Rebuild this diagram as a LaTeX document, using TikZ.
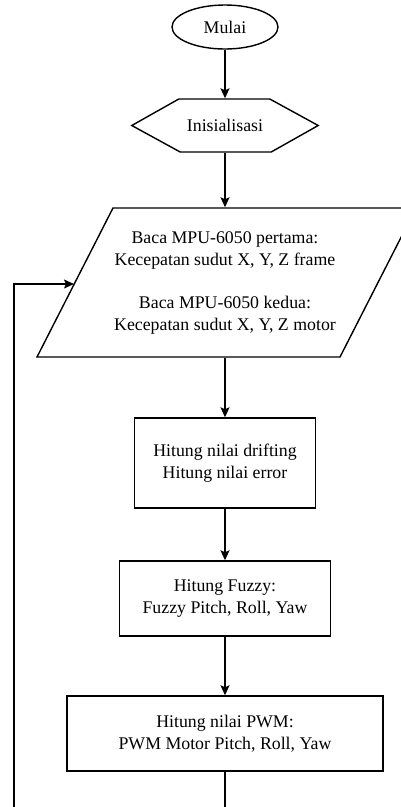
\documentclass[tikz,border=0pt]{standalone}
\usepackage{fontspec}
\setmainfont{Liberation Serif}
\usetikzlibrary{shapes.geometric,arrows.meta}

\begin{document}
\begin{tikzpicture}[x=1pt,y=-1pt,line width=1.4pt,
		every node/.style={align=center,inner sep=0pt,font=\fontsize{17.8}{22}\selectfont},
		proses/.style={draw=black,rectangle},
		panah/.style={-{Stealth[length=10pt,width=9pt,inset=2pt]}}]
		\useasboundingbox (0,0) rectangle (401,807);

		\node[draw=black,ellipse,minimum width=106,minimum height=44] (mulai) at (225,27){Mulai};
		\node[minimum width=185,minimum height=53] (init) at (225,125.5){Inisialisasi};
		\node[minimum height=149] (baca) at (225,282.5){Baca MPU-6050 pertama:\\Kecepatan sudut X, Y, Z frame\\[21pt]Baca MPU-6050 kedua:\\Kecepatan sudut X, Y, Z motor};
		\node[proses,minimum width=181,minimum height=90] (drift) at (225,463){Hitung nilai drifting\\Hitung nilai error};
		\node[proses,minimum width=211,minimum height=75] (fuzzy) at (225,598.5){Hitung Fuzzy:\\Fuzzy Pitch, Roll, Yaw};
		\node[proses,minimum width=316,minimum height=75] (pwm) at (225,733.5){Hitung nilai PWM:\\PWM Motor Pitch, Roll, Yaw};

		\coordinate (bawah) at (225,807);
		\coordinate (ulang) at (14,807);
		\coordinate (masuk) at (74,284);

		% hexagon and parallelogram
		\draw (init.west) -- ++(47,-26.5) -- ++(91,0) -- (init.east) -- ++(-47,26.5) -- ++(-91,0) -- cycle;
		\draw (113,208) -- (416,208) -- (340,357) -- (37,357) -- cycle;

		\draw[panah] (mulai) -- (init);
		\draw[panah] (init) -- (baca);
		\draw[panah] (baca) -- (drift);
		\draw[panah] (drift) -- (fuzzy);
		\draw[panah] (fuzzy) -- (pwm);
		\draw (pwm) -- (bawah);
		\draw[panah] (ulang) |- (masuk);

	\end{tikzpicture}
\end{document}
